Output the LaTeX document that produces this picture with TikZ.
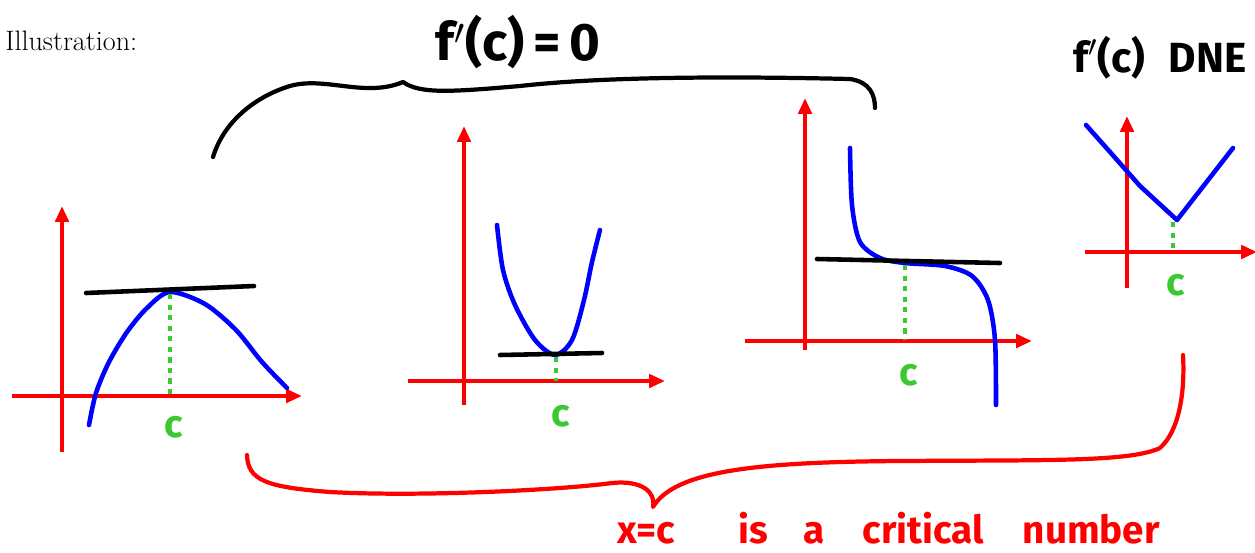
\documentclass[tikz,border=0pt]{standalone}
\usepackage{fontspec}
\newfontfamily\handfont{Fira Sans}
\usetikzlibrary{arrows.meta}

\definecolor{penred}{RGB}{255,0,0}
\definecolor{penblue}{RGB}{0,0,255}
\definecolor{pengreen}{RGB}{60,200,50}

\begin{document}
\begin{tikzpicture}[
    x=0.02cm, y=-0.02cm,
    axis/.style={draw=penred, line width=2.4pt, -{Triangle[length=9pt,width=7.5pt]}},
    curve/.style={draw=penblue, line width=2.6pt, line cap=round, line join=round},
    tangent/.style={draw=black, line width=2.6pt, line cap=round},
    guide/.style={draw=pengreen, line width=2.6pt, dash pattern=on 3pt off 3pt},
    brace/.style={line width=2.4pt, line cap=round, line join=round},
    hand/.style={inner sep=0pt, font=\handfont\bfseries}
]
\useasboundingbox (0,0) rectangle (1255,552);

\node[anchor=base west, inner sep=0pt, font=\fontsize{16}{18}\selectfont] (title) at (5,50) {Illustration:};

% maximum
\draw[axis] (62,452) -- (62,206);
\draw[axis] (12,396) -- (302,396);
\draw[curve] plot[smooth] coordinates {(89,425) (96,393) (109,362) (127,332) (147,308) (170,292) (205,304) (236,330) (262,362) (287,388)};
\draw[tangent] (86,293) -- (254,286);
\draw[guide] (170,294) -- (170,395);
\node[hand, text=pengreen, font=\handfont\bfseries\fontsize{22}{22}\selectfont] (c1) at (174,427) {c};

% minimum
\draw[axis] (464,405) -- (464,126);
\draw[axis] (408,381) -- (665,381);
\draw[curve] plot[smooth] coordinates {(497,225) (503,270) (515,305) (535,340) (555,355) (572,340) (584,300) (592,262) (600,230)};
\draw[tangent] (500,355) -- (602,353);
\draw[guide] (556,357) -- (556,381);
\node[hand, text=pengreen, font=\handfont\bfseries\fontsize{22}{22}\selectfont] (c2) at (561,416) {c};

% inflection
\draw[axis] (805,350) -- (805,98);
\draw[axis] (745,341) -- (1032,341);
\draw[curve] plot[smooth] coordinates {(850,148) (852,205) (860,242) (880,258) (905,263) (945,266) (972,276) (988,300) (995,340) (996,405)};
\draw[tangent] (817,259) -- (1000,263);
\draw[guide] (905,265) -- (905,340);
\node[hand, text=pengreen, font=\handfont\bfseries\fontsize{22}{22}\selectfont] (c3) at (909,375) {c};

% corner
\draw[axis] (1127,288) -- (1127,116);
\draw[axis] (1085,252) -- (1257,252);
\draw[curve] (1086,125) -- (1110,152) -- (1140,186) -- (1177,220) -- (1205,184) -- (1233,148);
\draw[guide] (1173,222) -- (1173,252);
\node[hand, text=pengreen, font=\handfont\bfseries\fontsize{22}{22}\selectfont] (c4) at (1176,285) {c};

% labels and braces
\node[hand, font=\handfont\bfseries\fontsize{30}{30}\selectfont] (zero) at (518,42) {f$'$(c)\,=\,0};
\node[hand, font=\handfont\bfseries\fontsize{24}{24}\selectfont] (dne) at (1160,58) {f$'$(c)\;\;DNE};
\draw[brace] (213,157) .. controls (225,118) and (260,95) .. (290,86)
    .. controls (325,76) and (365,98) .. (403,82)
    .. controls (420,94) and (450,92) .. (520,86)
    .. controls (600,77) and (720,76) .. (850,79)
    .. controls (870,82) and (875,95) .. (875,108);
\draw[brace, draw=penred] (247,455) .. controls (248,480) and (265,487) .. (330,492)
    .. controls (420,497) and (560,490) .. (612,483)
    .. controls (642,480) and (656,492) .. (653,507)
    .. controls (675,470) and (760,462) .. (900,461)
    .. controls (1050,460) and (1130,462) .. (1160,448)
    .. controls (1180,430) and (1185,390) .. (1183,355);
\node[hand, text=penred, anchor=base west, font=\handfont\bfseries\fontsize{22}{22}\selectfont] (crit) at (617,543)
    {x=c\hspace{36pt}is\hspace{20pt}a\hspace{22pt}critical\hspace{22pt}number};
\end{tikzpicture}
\end{document}
